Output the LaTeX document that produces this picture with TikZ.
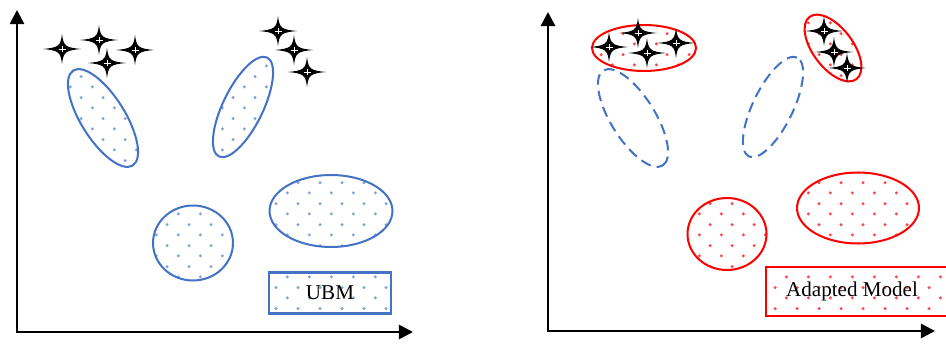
\documentclass[tikz,border=0pt]{standalone}
\usepackage{fontspec}
\setmainfont{Liberation Serif}
\usetikzlibrary{positioning, arrows.meta, shapes.geometric, patterns.meta}

\definecolor{ubmblue}{RGB}{68,114,196}
\definecolor{ubmdot}{RGB}{130,162,218}
\definecolor{adaptdot}{RGB}{255,70,70}

% staggered dot fill used inside the mixtures
\tikzdeclarepattern{
  name=spots,
  type=uncolored,
  bounding box={(0,0) and (0.434cm,0.424cm)},
  tile size={(0.434cm,0.424cm)},
  code={
    \fill (0.108cm,0.106cm) circle [radius=0.034cm];
    \fill (0.325cm,0.318cm) circle [radius=0.034cm];
  }
}

\tikzset{
  axis/.style={line width=1.5pt,
    {Triangle[length=8pt,width=8pt]}-{Triangle[length=8pt,width=8pt]}},
  ubm/.style={draw=ubmblue, line width=1.15pt, inner sep=0pt,
    pattern=spots, pattern color=ubmdot},
  moved/.style={draw=ubmblue, line width=1.15pt, inner sep=0pt,
    dash pattern=on 6pt off 3.5pt},
  adapted/.style={draw=red, line width=1.15pt, inner sep=0pt,
    pattern=spots, pattern color=adaptdot},
  keytext/.style={font=\fontsize{12}{14}\selectfont},
  spark/.pic={
    \fill[black] (19,0) .. controls (3.5,1.5) and (1.5,2.8) .. (0,15)
      .. controls (-1.5,2.8) and (-3.5,1.5) .. (-19,0)
      .. controls (-3.5,-1.5) and (-1.5,-2.8) .. (0,-15)
      .. controls (1.5,-2.8) and (3.5,-1.5) .. cycle;
    \draw[white, line width=0.3pt] (-3.5,0) -- (3.5,0) (0,-3) -- (0,3);
  }
}

\begin{document}
\begin{tikzpicture}[x=0.02cm, y=0.02cm]
    \useasboundingbox (0,0) rectangle (946,345);
    \clip (0,0) rectangle (946,345);

    % ---- left: UBM ----
    \coordinate (ytopL) at (17,335);
    \coordinate (xendL) at (413,13);
    \draw [axis] (ytopL) |- (xendL);

    \node [ubm, ellipse, minimum width=2.24cm, minimum height=0.88cm,
    rotate=-58] (mixA) at (103,227) {};
    \node [ubm, ellipse, minimum width=2.2cm, minimum height=0.8cm,
    rotate=64] (mixB) at (243,238) {};
    \node [ubm, ellipse, minimum width=1.6cm, minimum height=1.5cm
    ] (mixC) at (193,102) {};
    \node [ubm, ellipse, minimum width=2.46cm, minimum height=1.44cm
    ] (mixD) at (331,134) {};

    \node [ubm, keytext,
    minimum width=2.44cm,
    minimum height=0.82cm
    ] (ubm key) at (330,52) {UBM};

    \pic at (62,296) {spark};
    \pic at (99,305) {spark};
    \pic at (135,295) {spark};
    \pic at (107,282) {spark};
    \pic at (278,314) {spark};
    \pic at (294,295) {spark};
    \pic at (307,273) {spark};

    % ---- right: adapted model ----
    \coordinate (ytopR) at (548,333);
    \coordinate (xendR) at (935,14);
    \draw [axis] (ytopR) |- (xendR);

    \node [moved, ellipse, minimum width=2.24cm, minimum height=0.88cm,
    rotate=-58] (oldA) at (633,227) {};
    \node [moved, ellipse, minimum width=2.2cm, minimum height=0.8cm,
    rotate=64] (oldB) at (773,238) {};

    \node [adapted, ellipse, minimum width=2.08cm, minimum height=0.92cm
    ] (newA) at (644,297) {};
    \node [adapted, ellipse, minimum width=1.56cm, minimum height=0.8cm,
    rotate=-53] (newB) at (833,297) {};
    \node [adapted, ellipse, minimum width=1.58cm, minimum height=1.44cm
    ] (newC) at (727,111) {};
    \node [adapted, ellipse, minimum width=2.44cm, minimum height=1.42cm
    ] (newD) at (858,137) {};

    \node [adapted,
    minimum width=3.68cm,
    minimum height=0.98cm
    ] (adapted key) at (858,53.5) {};
    \node [keytext] at (852,53.5) {Adapted Model};

    \pic at (609,298) {spark};
    \pic at (638,312) {spark};
    \pic at (647,292) {spark};
    \pic at (676,302) {spark};
    \pic at (824,314) {spark};
    \pic at (834,293) {spark};
    \pic at (847,277) {spark};
\end{tikzpicture}
\end{document}
